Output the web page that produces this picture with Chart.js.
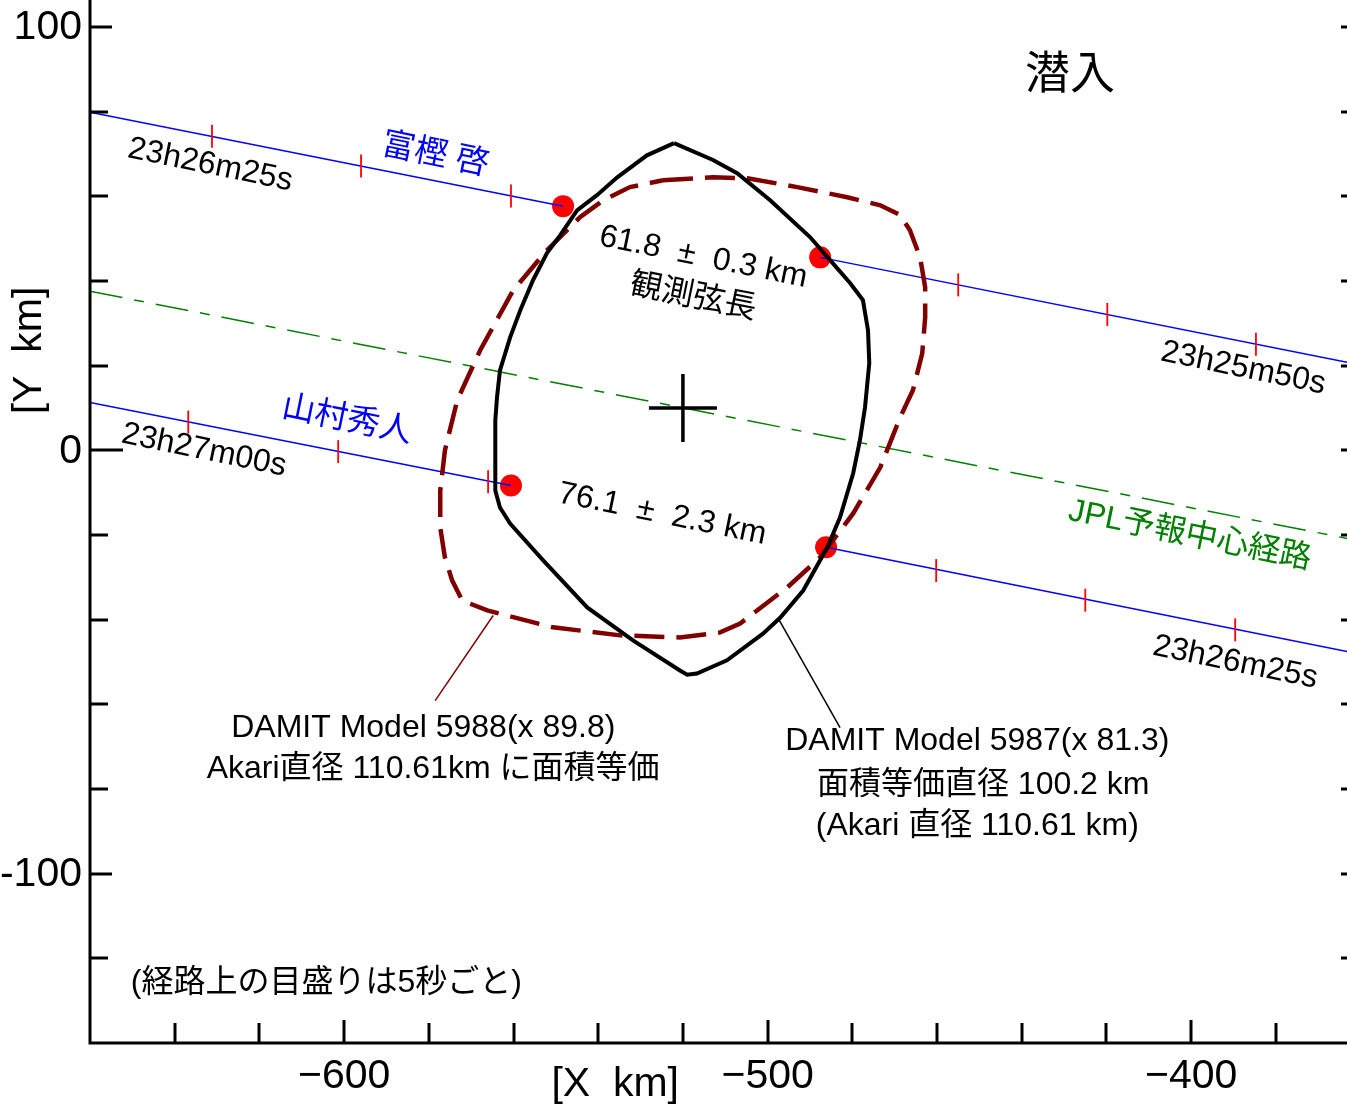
<!DOCTYPE html>
<html>
<head>
<meta charset="utf-8">
<script src="https://cdn.jsdelivr.net/npm/chart.js@4.4.1/dist/chart.umd.min.js"></script>
<style>
html,body{margin:0;padding:0;background:#fff;}
#wrap{width:1347px;height:1107px;}
</style>
</head>
<body>
<div id="wrap"><canvas id="c" width="1347" height="1107"></canvas></div>
<script>
// ---- data (km) ----
const blackCurve5987 = [[-522.1,72.6],[-512.9,68.6],[-507.2,65.5],[-499.4,59.1],[-490.0,50.4],[-485.2,44.9],[-480.5,39.5],[-477.5,35.5],[-476.3,28.4],[-476.0,20.6],[-477.0,10.2],[-478.2,2.4],[-479.8,-5.4],[-482.9,-15.8],[-485.9,-22.9],[-491.6,-33.1],[-497.0,-39.5],[-501.1,-43.3],[-509.6,-49.6],[-516.7,-52.7],[-519.0,-53.0],[-520.7,-52.0],[-531.8,-44.9],[-542.6,-37.1],[-553.0,-26.0],[-560.8,-17.3],[-563.2,-13.5],[-564.3,-9.5],[-564.3,7.1],[-563.9,12.5],[-563.2,18.9],[-560.8,26.7],[-558.4,33.1],[-555.4,40.2],[-552.1,46.6],[-549.0,50.8],[-545.0,56.7],[-540.3,60.3],[-535.5,64.5],[-528.5,69.7],[-522.1,72.6]];
const redCurve5988 = [[-524.7,63.8],[-512.9,64.5],[-504.8,64.3],[-493.0,62.2],[-481.2,59.8],[-473.4,57.9],[-468.7,55.6],[-466.4,52.0],[-464.0,45.6],[-462.8,38.5],[-462.8,31.4],[-463.5,22.9],[-465.7,14.2],[-468.7,7.8],[-473.4,-4.0],[-479.8,-14.9],[-487.6,-25.3],[-495.4,-32.4],[-506.5,-40.9],[-511.2,-43.0],[-520.7,-44.2],[-534.8,-43.7],[-550.7,-41.8],[-566.2,-37.8],[-572.1,-35.5],[-574.5,-30.7],[-576.2,-25.3],[-577.3,-18.2],[-577.3,-9.5],[-576.2,0.0],[-573.3,11.8],[-567.9,23.6],[-560.1,37.8],[-552.1,47.3],[-544.3,55.1],[-538.8,59.1],[-532.5,62.2],[-524.7,63.8]];
const chordTogashiWest = [[-660,79.9],[-548.3,57.7]];
const chordTogashiEast = [[-487.6,45.6],[-363.2,20.8]];
const chordYamamuraWest = [[-660,11.3],[-560.6,-8.3]];
const chordYamamuraEast = [[-486.2,-22.9],[-363.2,-47.5]];
const jplCenterPath = [[-660,37.6],[-363.2,-20.8]];
const timeTicks = [[-631.2,74.2],[-596.0,67.2],[-560.6,60.1],[-455.0,39.1],[-419.8,32.1],[-384.7,25.1],
                   [-636.8,6.7],[-601.4,-0.3],[-566.0,-7.4],[-460.2,-28.4],[-425.0,-35.4],[-389.6,-42.4]];
const contactPoints = [[-548.3,57.7],[-487.6,45.6],[-560.6,-8.3],[-486.2,-22.9]];
const centerCross = [[-520,10]];
const leader5988 = [[-578.5,-59.1],[-564.8,-39.0]];
const leader5987 = [[-497.5,-39.7],[-482.9,-65.5]];
const xTickValues = [-640,-620,-600,-580,-560,-540,-520,-500,-480,-460,-440,-420,-400,-380];
const xLabelValues = [-600,-500,-400];
const xTickLabels = ['\u2212600','\u2212500','\u2212400'];
const yTickValues = [100,80,60,40,20,0,-20,-40,-60,-80,-100,-120];
const yLabelValues = [100,0,-100];
const yTickLabels = ['100','0','-100'];
const X_MIN = -660, X_MAX = -363.2, Y_MIN = -140, Y_MAX = 106.4;

// ---- texts (placed in data coordinates) ----
const FONT = '"Liberation Sans", Arial, "Noto Sans CJK JP", sans-serif';
const texts = [
  {t:'潜入', x:-428.6, y:88.2, size:45, color:'#000', rot:0},
  {t:'富樫 啓', x:-578.5, y:69.7, size:33, color:'#0000ff', rot:11.5},
  {t:'23h26m25s', x:-631.6, y:67.4, size:32, color:'#000', rot:11.5},
  {t:'61.8  ±  0.3 km', x:-515.2, y:45.6, size:32, color:'#000', rot:11.5},
  {t:'観測弦長', x:-517.6, y:36.2, size:32, color:'#000', rot:11.5},
  {t:'23h25m50s', x:-387.7, y:19.4, size:32, color:'#000', rot:11.5},
  {t:'山村秀人', x:-599.3, y:7.1, size:33, color:'#0000ff', rot:11.5},
  {t:'23h27m00s', x:-633.1, y:0.0, size:32, color:'#000', rot:11.5},
  {t:'76.1  ±  2.3 km', x:-524.9, y:-15.1, size:32, color:'#000', rot:11.5},
  {t:'JPL予報中心経路', x:-400.3, y:-20.1, size:32, color:'#008000', rot:11.5},
  {t:'23h26m25s', x:-389.6, y:-50.1, size:32, color:'#000', rot:11.5},
  {t:'DAMIT Model 5988(x 89.8)', x:-581.3, y:-65.7, size:32, color:'#000', rot:0},
  {t:'Akari直径 110.61km に面積等価', x:-579.0, y:-75.2, size:32, color:'#000', rot:0},
  {t:'DAMIT Model 5987(x 81.3)', x:-450.5, y:-68.8, size:32, color:'#000', rot:0},
  {t:'面積等価直径 100.2 km', x:-449.1, y:-79.0, size:32, color:'#000', rot:0},
  {t:'(Akari 直径 110.61 km)', x:-450.5, y:-88.7, size:32, color:'#000', rot:0},
  {t:'(経路上の目盛りは5秒ごと)', x:-604.2, y:-125.8, size:32, color:'#000', rot:0}
];

const pts = a => a.map(p => ({x:p[0], y:p[1]}));
function lineDs(data, color, width, dash, order){
  return {data:pts(data), showLine:true, borderColor:color, borderWidth:width, borderDash:dash||[],
          pointRadius:0, pointHoverRadius:0, tension:0, fill:false, order:order};
}

const axesPlugin = {
  id:'axesPlugin',
  afterDraw(chart){
    const ctx = chart.ctx, xs = chart.scales.x, ys = chart.scales.y, a = chart.chartArea;
    ctx.save();
    ctx.strokeStyle = '#000';
    ctx.lineCap = 'butt';
    ctx.lineWidth = 3;
    ctx.beginPath();
    ctx.moveTo(a.left, 0); ctx.lineTo(a.left, a.bottom + 1.5);
    ctx.moveTo(a.left - 1.5, a.bottom); ctx.lineTo(a.right, a.bottom);
    ctx.stroke();
    xTickValues.forEach(v => {
      const px = Math.round(xs.getPixelForValue(v));
      const len = xLabelValues.includes(v) ? 23 : 20;
      ctx.beginPath(); ctx.moveTo(px, a.bottom); ctx.lineTo(px, a.bottom - len); ctx.stroke();
    });
    yTickValues.forEach(v => {
      const py = Math.round(ys.getPixelForValue(v));
      let len = yLabelValues.includes(v) ? 22 : 18;
      if (v === 0) len = 33;
      ctx.beginPath(); ctx.moveTo(a.left, py); ctx.lineTo(a.left + len, py); ctx.stroke();
      ctx.beginPath(); ctx.moveTo(a.right - 6, py); ctx.lineTo(a.right, py); ctx.stroke();
    });
    ctx.fillStyle = '#000';
    ctx.font = '41px ' + FONT;
    ctx.textAlign = 'right'; ctx.textBaseline = 'middle';
    yLabelValues.forEach((v,i) => ctx.fillText(yTickLabels[i], a.left - 8, ys.getPixelForValue(v) + 1));
    ctx.textAlign = 'center';
    xLabelValues.forEach((v,i) => ctx.fillText(xTickLabels[i], xs.getPixelForValue(v), a.bottom + 34));
    ctx.font = '41px ' + FONT;
    ctx.fillText('[X  km]', xs.getPixelForValue(-536), a.bottom + 42);
    ctx.save();
    ctx.translate(30, ys.getPixelForValue(23.6));
    ctx.rotate(-Math.PI/2);
    ctx.fillText('[Y  km]', 0, 0);
    ctx.restore();
    texts.forEach(o => {
      ctx.save();
      ctx.translate(xs.getPixelForValue(o.x), ys.getPixelForValue(o.y));
      ctx.rotate(o.rot * Math.PI / 180);
      ctx.font = o.size + 'px ' + FONT;
      ctx.fillStyle = o.color;
      ctx.textAlign = 'center'; ctx.textBaseline = 'middle';
      ctx.fillText(o.t, 0, 0);
      ctx.restore();
    });
    ctx.restore();
  }
};

new Chart(document.getElementById('c'), {
  type:'scatter',
  data:{datasets:[
    lineDs(leader5988, '#800000', 1.5, null, 0),
    lineDs(leader5987, '#000000', 1.5, null, 0),
    lineDs(blackCurve5987, '#000000', 4, null, 1),
    lineDs(redCurve5988, '#800000', 4.5, [30,12], 2),
    lineDs(chordTogashiWest, '#0000ff', 1.5, null, 3),
    lineDs(chordTogashiEast, '#0000ff', 1.5, null, 3),
    lineDs(chordYamamuraWest, '#0000ff', 1.5, null, 3),
    lineDs(chordYamamuraEast, '#0000ff', 1.5, null, 3),
    {data:pts(timeTicks), pointStyle:'line', rotation:90, pointRadius:11.5, pointHoverRadius:11.5,
     borderColor:'#ff0000', borderWidth:1.8, backgroundColor:'#ff0000', showLine:false, order:2.5},
    lineDs(jplCenterPath, '#008000', 1.5, [33,12,10,12], 4),
    {data:pts(contactPoints), pointStyle:'circle', pointRadius:11, pointHoverRadius:11,
     backgroundColor:'#ff0000', borderWidth:0, showLine:false, order:5},
    {data:pts(centerCross), pointStyle:'cross', pointRadius:34, pointHoverRadius:34,
     borderColor:'#000', borderWidth:3.5, showLine:false, order:1.5}
  ]},
  options:{
    responsive:false, animation:false, devicePixelRatio:1,
    layout:{padding:0, autoPadding:false},
    plugins:{legend:{display:false}, tooltip:{enabled:false}},
    events:[],
    scales:{
      x:{type:'linear', min:X_MIN, max:X_MAX, ticks:{display:false}, grid:{display:false}, border:{display:false},
         afterFit(s){ s.height = 64; }},
      y:{type:'linear', min:Y_MIN, max:Y_MAX, ticks:{display:false}, grid:{display:false}, border:{display:false},
         afterFit(s){ s.width = 90; }}
    }
  },
  plugins:[axesPlugin]
});
</script>
</body>
</html>
